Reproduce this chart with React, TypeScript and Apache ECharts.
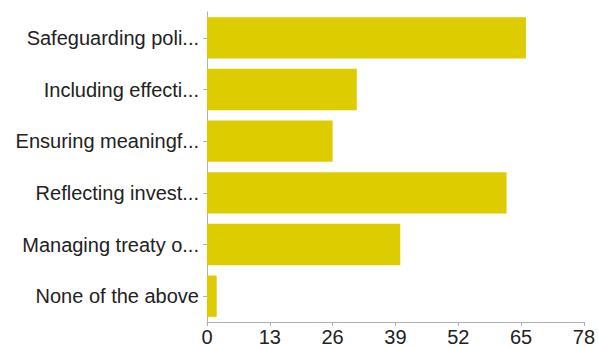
import React, { useEffect, useRef } from "react";
import * as echarts from "echarts";

const categories = [
  "Safeguarding poli...",
  "Including effecti...",
  "Ensuring meaningf...",
  "Reflecting invest...",
  "Managing treaty o...",
  "None of the above",
];
const values = [66, 31, 26, 62, 40, 2];
const xTicks = [0, 13, 26, 39, 52, 65, 78];

export default function App() {
  const ref = useRef<HTMLDivElement>(null);
  useEffect(() => {
    const chart = echarts.init(ref.current!, null, { renderer: "svg" });
    chart.setOption({
      animation: false,
      grid: { left: 207, right: 13, top: 12, bottom: 25, containLabel: false },
      xAxis: {
        type: "value",
        min: xTicks[0],
        max: xTicks[xTicks.length - 1],
        interval: 13,
        splitLine: { show: false },
        axisLine: { show: true, lineStyle: { color: "#b0b0b0", width: 1 } },
        axisTick: { show: true, length: 4, lineStyle: { color: "#b0b0b0" } },
        axisLabel: {
          color: "#222",
          fontSize: 20,
          fontFamily: "Liberation Sans, Arial, sans-serif",
          margin: 5,
        },
      },
      yAxis: {
        type: "category",
        data: categories,
        inverse: true,
        axisLine: { show: true, lineStyle: { color: "#b0b0b0", width: 1 } },
        axisTick: { show: true, length: 4, alignWithLabel: true, lineStyle: { color: "#b0b0b0" } },
        axisLabel: {
          color: "#222",
          fontSize: 20,
          fontFamily: "Liberation Sans, Arial, sans-serif",
          margin: 8,
        },
      },
      series: [
        {
          type: "bar",
          data: values,
          barCategoryGap: "20%",
          itemStyle: { color: "#DCCC00" },
        },
      ],
    });
    return () => chart.dispose();
  }, []);
  return <div ref={ref} style={{ width: 598, height: 347, position: "absolute", left: 0, top: 0 }} />;
}
